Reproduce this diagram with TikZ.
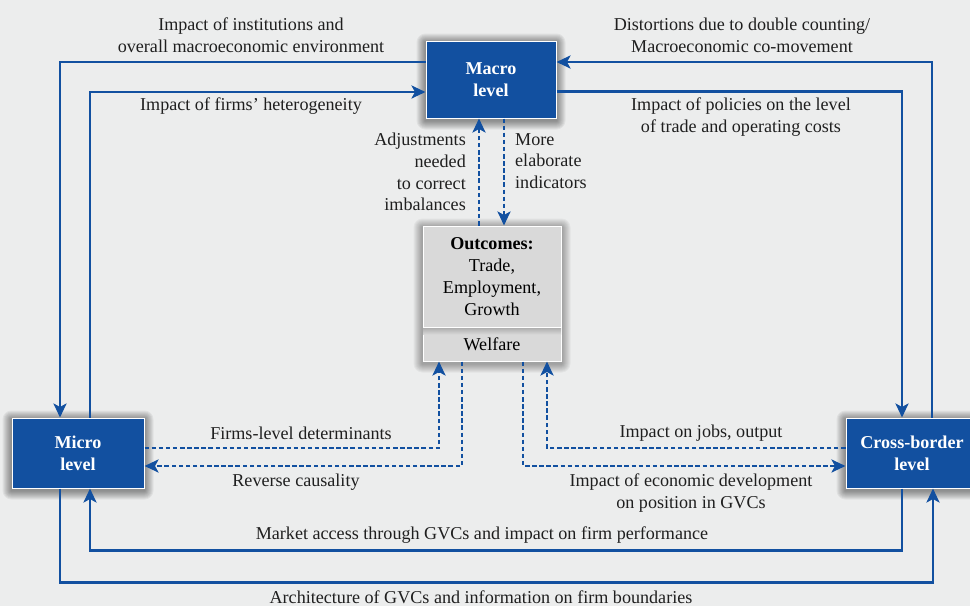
\documentclass[tikz,border=0pt]{standalone}
\usepackage{fontspec}
\setmainfont{Liberation Serif}
\usetikzlibrary{positioning,arrows.meta,backgrounds}

\definecolor{gvcblue}{RGB}{18,80,160}
\definecolor{gvcgrey}{RGB}{217,217,217}
\definecolor{gvcback}{RGB}{236,237,237}
\newcommand{\gvcfont}{\fontsize{18.1}{21.8}\selectfont}

\tikzset{
	lvlbox/.style={draw=white, line width=1pt, fill=gvcblue, text=white,
		font=\gvcfont\bfseries, align=center, inner sep=0pt,
		minimum width=132pt, minimum height=70pt},
	outbox/.style={draw=white, line width=1pt, fill=gvcgrey, font=\gvcfont,
		align=center, inner sep=0pt, minimum width=138pt},
	flow/.style={gvcblue, line width=2.8pt, -{Stealth[length=14pt, width=13pt, inset=3.5pt]}},
	dflow/.style={flow, dash pattern=on 4.5pt off 2.6pt},
	note/.style={font=\gvcfont, text=black!88, align=center, inner sep=0pt}
}

\begin{document}
\begin{tikzpicture}[x=1pt, y=-1pt]
		\useasboundingbox (0,0) rectangle (970,606);

		% the four boxes
		\node[lvlbox, minimum width=130pt, minimum height=77pt] (macro) at (491,79.5) {Macro\\level};
		\node[lvlbox] (micro) at (78,453) {Micro\\level};
		\node[lvlbox] (cross) [right of=micro, node distance=834pt] {Cross-border\\level};

		\node[outbox, minimum height=33pt] (welfare) at (492,344.5) {Welfare};
		\node[outbox, minimum height=101pt, above=0pt of welfare] (outcomes) {\textbf{Outcomes:}\\Trade,\\Employment,\\Growth};
		\shade[top color=black!30, bottom color=gvcgrey]
			([shift={(0.5pt,-1pt)}]welfare.north west) rectangle ([shift={(-0.5pt,-7pt)}]welfare.north east);

		% soft shadows behind the boxes
		\begin{scope}[on background layer]
			\fill[gvcback] (0,0) rectangle (970,606);
			\foreach \t/\u/\o in {macro/macro/0.05, micro/micro/0.05, cross/cross/0.05, outcomes/welfare/0.038}
				\foreach \s in {1,...,9}
					\fill[black, opacity=\o, rounded corners=\s pt]
						([shift={(-\s pt,-\s pt-2pt)}]\u.south west) rectangle ([shift={(\s pt,\s pt-2pt)}]\t.north east);
		\end{scope}

		% solid loops round the outside
		\draw[flow] ([yshift=17.5pt]macro.west) -| ([xshift=-18pt]micro.north);
		\draw[flow] ([xshift=12pt]micro.north) |- ([yshift=-12.5pt]macro.west);
		\draw[flow] ([yshift=-12pt]macro.east) -| ([xshift=-10pt]cross.north);
		\draw[flow] ([xshift=20pt]cross.north) |- ([yshift=17.5pt]macro.east);
		\draw[flow] ([xshift=-10pt]cross.south) -- ++(0,-62pt) -| ([xshift=12pt]micro.south);
		\draw[flow] ([xshift=-18pt]micro.south) -- ++(0,-94pt) -| ([xshift=21pt]cross.south);

		% dotted links through the outcomes
		\draw[dflow] ([xshift=-13pt]outcomes.north) -- ([xshift=-13pt]outcomes.north |- macro.south);
		\draw[dflow] ([xshift=13pt]macro.south) -- ([xshift=13pt]macro.south |- outcomes.north);
		\draw[dflow] ([yshift=5pt]micro.east) -| ([xshift=-53pt]welfare.south);
		\draw[dflow] ([xshift=-30pt]welfare.south) |- ([yshift=-13pt]micro.east);
		\draw[dflow] ([yshift=5pt]cross.west) -| ([xshift=55pt]welfare.south);
		\draw[dflow] ([xshift=31pt]welfare.south) |- ([yshift=-13pt]cross.west);

		% labels
		\node[note] (inst) at (251,35) {Impact of institutions and\\overall macroeconomic environment};
		\node[note] (dist) at (742,35) {Distortions due to double counting/\\Macroeconomic co-movement};
		\node[note] (hetero) at (251,106) {Impact of firms' heterogeneity};
		\node[note] (policy) at (741,117) {Impact of policies on the level\\of trade and operating costs};
		\node[note, align=right, anchor=east] (adjust) at (466,172) {Adjustments\\needed\\to correct\\imbalances};
		\node[note, align=left, anchor=west] (elab) at (515,161) {More\\elaborate\\indicators};
		\node[note] (firms) at (301,433) {Firms-level determinants};
		\node[note] (reverse) at (296,482) {Reverse causality};
		\node[note] (jobs) at (701,433) {Impact on jobs, output};
		\node[note] (econ) at (691,493) {Impact of economic development\\on position in GVCs};
		\node[note] (market) at (482,535) {Market access through GVCs and impact on firm performance};
		\node[note] (arch) at (481,597) {Architecture of GVCs and information on firm boundaries};
	\end{tikzpicture}
\end{document}
